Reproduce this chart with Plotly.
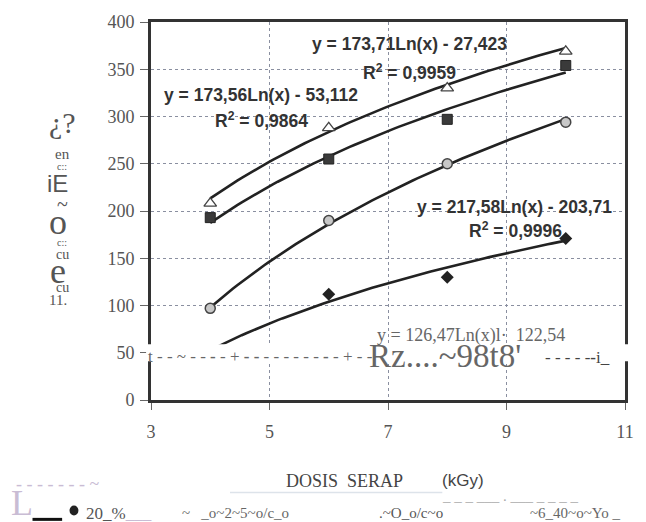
import numpy as np
import plotly.graph_objects as go

# Absorbed dose (kGy) and measured values for each series
dose = [4, 6, 8, 10]
s40 = [208, 288, 330, 369]   # open triangles
s30 = [193, 255, 297, 354]   # filled squares
s25 = [97, 190, 250, 294]    # grey circles
dose_s20 = [6, 8, 10]
s20 = [112, 130, 171]        # filled diamonds

# Logarithmic trend lines: y = a*Ln(x) + b
fit40 = (173.71, -27.423)
fit30 = (173.56, -53.112)
fit25 = (217.58, -203.71)
fit20 = (126.47, -122.54)

x_ticks = [3, 5, 7, 9, 11]
y_ticks = [0, 50, 100, 150, 200, 250, 300, 350, 400]

W, H = 646, 522
L, R, T, B = 151, 15, 20, 122
PW, PH = W - L - R, H - T - B

SERIF = "Liberation Serif"
SANS = "Liberation Sans"


def px(x, y):
    return (x - L) / PW, (H - B - y) / PH


fig = go.Figure()

xs = np.linspace(4, 10, 80)
for a, b in (fit40, fit30, fit25, fit20):
    fig.add_trace(go.Scatter(x=xs, y=a * np.log(xs) + b, mode="lines",
                             line=dict(color="#222222", width=2.6),
                             hoverinfo="skip", showlegend=False))

fig.add_trace(go.Scatter(x=dose, y=s40, mode="markers", showlegend=False,
                         marker=dict(symbol="triangle-up", size=11, color="white",
                                     line=dict(color="#444444", width=1.3))))
fig.add_trace(go.Scatter(x=dose, y=s30, mode="markers", showlegend=False,
                         marker=dict(symbol="square", size=10, color="#3a3a3a",
                                     line=dict(color="#222222", width=1))))
fig.add_trace(go.Scatter(x=dose, y=s25, mode="markers", showlegend=False,
                         marker=dict(symbol="circle", size=10, color="#c8c8c8",
                                     line=dict(color="#444444", width=1.5))))
fig.add_trace(go.Scatter(x=dose_s20, y=s20, mode="markers", showlegend=False,
                         marker=dict(symbol="diamond", size=10, color="#222222")))

axis_common = dict(showline=True, linewidth=3, linecolor="#333333", mirror=True,
                   showgrid=True, gridcolor="#8a8fa0", gridwidth=1, griddash="dot",
                   zeroline=False, ticks="outside", tickcolor="#666666",
                   tickfont=dict(family=SERIF, size=18, color="#555555"))

fig.update_xaxes(range=[3, 11], tickvals=x_ticks, ticklen=7,
                 ticklabelstandoff=6, **axis_common)
fig.update_yaxes(range=[0, 400], tickvals=y_ticks, ticklen=8,
                 ticklabelstandoff=2, **axis_common)

# white band with scanned-in residue across the lower part of the plot
x0, y0 = px(146, 344)
x1, y1 = px(646, 361)
fig.add_shape(type="rect", xref="paper", yref="paper", x0=x0, x1=x1, y0=y1, y1=y0,
              fillcolor="white", line=dict(width=0), layer="above")


def note(text, x, y, size, color, family, xanchor="center", **kw):
    ax, ay = px(x, y)
    fig.add_annotation(text=text, x=ax, y=ay, xref="paper", yref="paper",
                       showarrow=False, xanchor=xanchor, yanchor="middle",
                       font=dict(size=size, color=color, family=family), **kw)


# trend line equations
EQ = dict(size=17.5, color="#333333", family=SANS + ", Arial")
note("<b>y = 173,71Ln(x) - 27,423</b>", 413, 42, **EQ)
note("<b>R<sup>2</sup> = 0,9959</b>", 413, 70, **EQ)
note("<b>y = 173,56Ln(x) - 53,112</b>", 262, 93, **EQ)
note("<b>R<sup>2</sup> = 0,9864</b>", 263, 119, **EQ)
note("<b>y = 217,58Ln(x) - 203,71</b>", 519, 206, **EQ)
note("<b>R<sup>2</sup> = 0,9996</b>", 520, 229, **EQ)
note("y = 126,47Ln(x)l·  122,54", 475, 335, 18, "#666666", SERIF)

# band residue
note("t - - ~ - - <b>-</b> - + <b>- -</b> - - - - - - <b>-</b> - + - -", 146, 356, 17, "#666666", SERIF,
     xanchor="left")
note("Rz....~98t8'", 370, 356, 33, "#666666", SERIF, xanchor="left")
note("- - - - -<b>-</b>i_", 548, 357, 17, "#444444", SERIF, xanchor="left")

# vertical axis title
YT = "#555555"
note("¿?", 61, 121, 30, YT, SERIF)
note("en", 61, 153, 15, YT, SERIF)
note("c::", 61, 165, 10, YT, SERIF)
note("iE", 56, 182, 24, YT, SANS)
note("~", 61, 203, 20, YT, SERIF)
note("o", 57, 221, 36, YT, SERIF)
note("c::", 61, 242, 10, YT, SERIF)
note("cu", 61, 254, 14, YT, SERIF)
note("e", 57, 270, 36, YT, SERIF)
note("cu", 61, 287, 14, YT, SERIF)
note("11.", 57, 299, 15, YT, SERIF)

# horizontal axis title
note("DOSIS  SERAP", 286, 481, 18, "#444444", SERIF, xanchor="left")
note("(kGy)", 444, 481, 17, "#444444", SANS, xanchor="left")

# legend row
LAV = "#c9bcd4"
note("L", 20, 504, 36, LAV, SERIF)
note("- - - - - - - ~", 12, 484, 18, LAV, SERIF, xanchor="left")
note("_ _ _ ___ . ___ _ _ _ _", 444, 497, 15, "#aaaaaa", SERIF, xanchor="left")
note("20_%<span style='color:#c9bcd4'>___</span>", 83, 514, 17, "#555555", SERIF, xanchor="left")
note("~   _o~2~5~o/c_o", 180, 514, 15, "#666666", SERIF, xanchor="left")
note(".~O_o/c~o", 380, 514, 15, "#555555", SERIF, xanchor="left")
note("~6_40~o~Yo _", 533, 514, 15, "#666666", SERIF, xanchor="left")

gx0, gy0 = px(231, 493)
gx1, _ = px(446, 493)
fig.add_shape(type="line", xref="paper", yref="paper", x0=gx0, x1=gx1, y0=gy0, y1=gy0,
              line=dict(color="#dde3ea", width=1.5))
ux0, uy0 = px(31, 520)
ux1, _ = px(61, 520)
fig.add_shape(type="line", xref="paper", yref="paper", x0=ux0, x1=ux1, y0=uy0, y1=uy0,
              line=dict(color="#111111", width=3))
dx, dy = px(73, 511)
fig.add_shape(type="circle", xref="paper", yref="paper",
              x0=dx - 4.5 / PW, x1=dx + 4.5 / PW, y0=dy - 5 / PH, y1=dy + 5 / PH,
              fillcolor="#222222", line=dict(width=0))

fig.update_layout(width=W, height=H, margin=dict(l=L, r=R, t=T, b=B),
                  paper_bgcolor="white", plot_bgcolor="white", showlegend=False)

fig.write_html("out.html")
